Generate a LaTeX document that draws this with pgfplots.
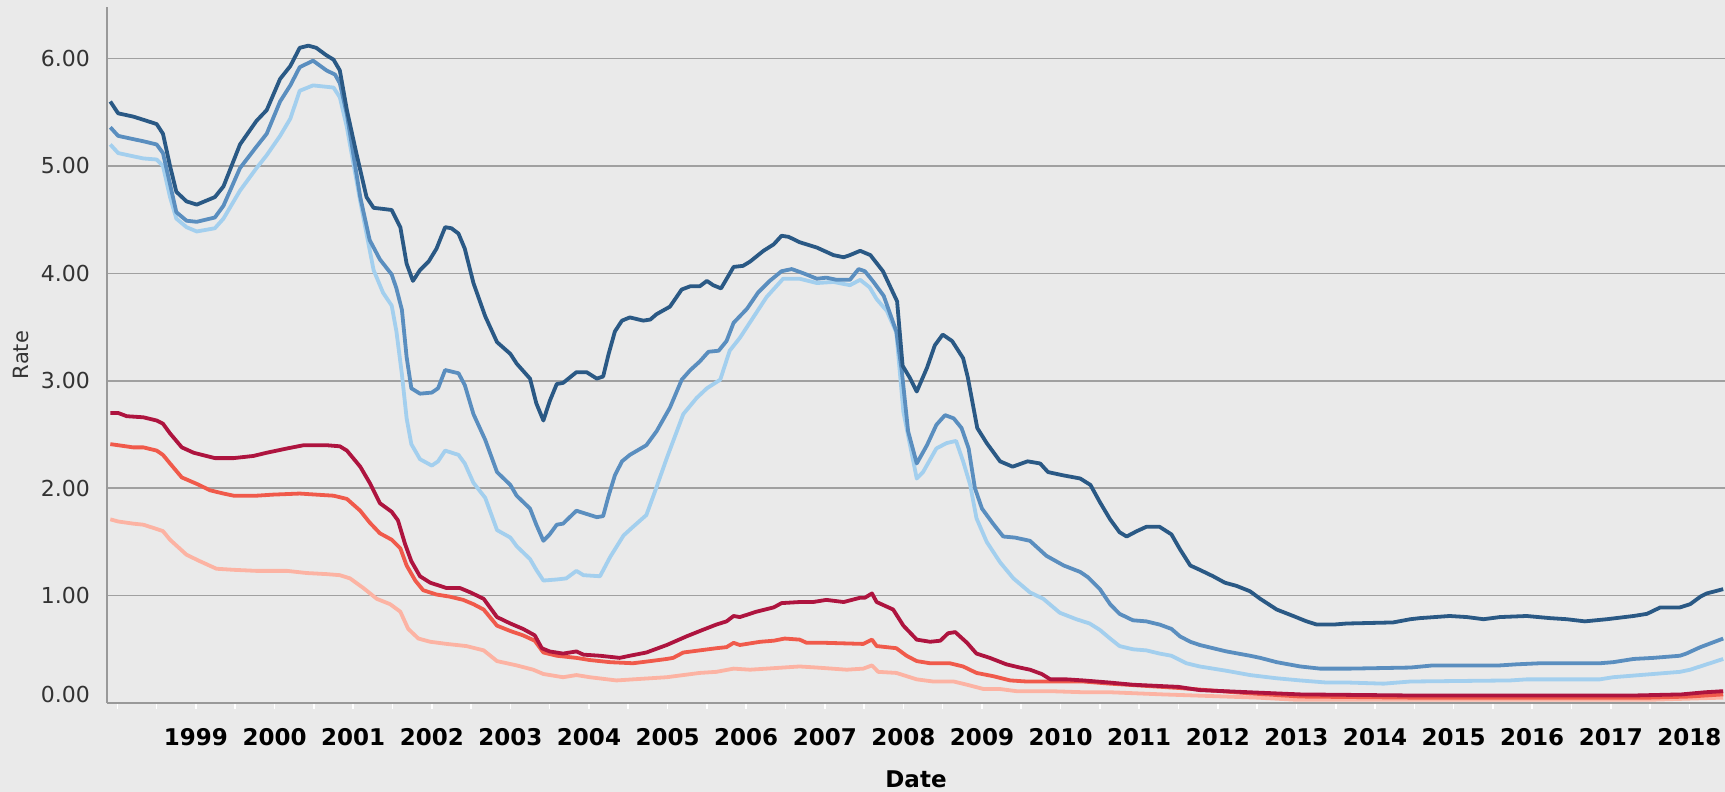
\documentclass[border=0pt]{standalone}
\usepackage{fontspec}
\setmainfont{DejaVu Sans}
\usepackage{pgfplots}
\pgfplotsset{compat=1.18}
\definecolor{bg}{HTML}{EAEAEA}
\definecolor{gridgray}{HTML}{A0A0A0}
\definecolor{axisgray}{HTML}{999999}
\definecolor{labelgray}{HTML}{333333}
\definecolor{db}{HTML}{2A5985}
\definecolor{mb}{HTML}{5A8EBF}
\definecolor{lb}{HTML}{A3CFEE}
\definecolor{dr}{HTML}{AE143F}
\definecolor{rr}{HTML}{F05A4B}
\definecolor{lr}{HTML}{FCB3A3}
\begin{document}
\begin{tikzpicture}
\fill[bg] (0,0) rectangle (862.5pt,396pt);
\useasboundingbox (0,0) rectangle (862.5pt,396pt);
\begin{axis}[
  at={(53.5pt,44.5pt)}, anchor=south west,
  scale only axis, width=809pt, height=348pt,
  xmin=1997.868, xmax=2018.453, ymin=0, ymax=6.48,
  axis lines*=left,
  axis line style={-, draw=axisgray, line width=1.2pt},
  ymajorgrids, grid style={draw=gridgray, line width=0.8pt},
  ytick={0,1,2,3,4,5,6},
  yticklabels={\raisebox{8.5pt}{0.00},1.00,2.00,3.00,4.00,5.00,6.00},
  xtick={1999,2000,2001,2002,2003,2004,2005,2006,2007,2008,2009,2010,2011,2012,2013,2014,2015,2016,2017,2018},
  xticklabels={1999,2000,2001,2002,2003,2004,2005,2006,2007,2008,2009,2010,2011,2012,2013,2014,2015,2016,2017,2018},
  minor xtick={1998,1998.5,1999.5,2000.5,2001.5,2002.5,2003.5,2004.5,2005.5,2006.5,2007.5,2008.5,2009.5,2010.5,2011.5,2012.5,2013.5,2014.5,2015.5,2016.5,2017.5},
  tick align=outside, major tick length=3pt, minor tick length=3pt,
  tick style={draw=white, line width=0.8pt},
  ytick style={draw=none},
  /pgf/number format/assume math mode=true,
  xticklabel style={font=\bfseries\fontsize{11.5}{13}\selectfont, text=black, yshift=-6pt},
  yticklabel style={font=\fontsize{11}{13}\selectfont, text=labelgray, xshift=-2pt},
  xlabel={Date}, ylabel={Rate},
  xlabel style={at={(axis description cs:0.5,-0.1092)}, anchor=center, font=\bfseries\fontsize{11.5}{13}\selectfont, text=black},
  ylabel style={at={(axis description cs:-0.0532,0.5)}, anchor=center, font=\fontsize{10.5}{12}\selectfont, text=labelgray},
  every axis plot/.append style={line width=1.9pt, line join=round, no markers},
]
\addplot[lr] coordinates {(1997.91,1.71)(1998.01,1.69)(1998.20,1.67)(1998.33,1.66)(1998.50,1.62)(1998.58,1.60)(1998.67,1.52)(1998.88,1.38)(1999.05,1.32)(1999.26,1.25)(1999.48,1.24)(1999.77,1.23)(1999.98,1.23)(2000.16,1.23)(2000.41,1.21)(2000.66,1.20)(2000.83,1.19)(2000.96,1.16)(2001.13,1.07)(2001.30,0.97)(2001.47,0.92)(2001.60,0.85)(2001.70,0.69)(2001.83,0.60)(2001.98,0.57)(2002.19,0.55)(2002.44,0.53)(2002.66,0.49)(2002.83,0.39)(2003.08,0.35)(2003.29,0.31)(2003.42,0.27)(2003.67,0.24)(2003.84,0.26)(2004.01,0.24)(2004.35,0.21)(2004.56,0.22)(2004.99,0.24)(2005.41,0.28)(2005.62,0.29)(2005.84,0.32)(2006.05,0.31)(2006.47,0.33)(2006.68,0.34)(2006.90,0.33)(2007.28,0.31)(2007.49,0.32)(2007.60,0.35)(2007.68,0.29)(2007.91,0.28)(2008.17,0.22)(2008.38,0.20)(2008.64,0.20)(2008.81,0.17)(2009.02,0.13)(2009.23,0.13)(2009.44,0.11)(2009.87,0.11)(2010.29,0.10)(2010.63,0.10)(2011.30,0.08)(2012.50,0.05)(2013.00,0.03)(2014.50,0.03)(2017.50,0.03)(2018.43,0.05)};
\addplot[rr] coordinates {(1997.91,2.41)(1998.01,2.40)(1998.20,2.38)(1998.33,2.38)(1998.50,2.35)(1998.58,2.31)(1998.67,2.23)(1998.82,2.10)(1999.01,2.04)(1999.18,1.98)(1999.35,1.95)(1999.48,1.93)(1999.77,1.93)(1999.98,1.94)(2000.32,1.95)(2000.53,1.94)(2000.75,1.93)(2000.92,1.90)(2001.09,1.79)(2001.21,1.68)(2001.34,1.58)(2001.49,1.52)(2001.60,1.44)(2001.68,1.28)(2001.79,1.14)(2001.89,1.05)(2002.06,1.01)(2002.23,0.99)(2002.40,0.96)(2002.53,0.92)(2002.66,0.87)(2002.83,0.72)(2003.00,0.67)(2003.16,0.63)(2003.31,0.58)(2003.42,0.47)(2003.59,0.44)(2003.84,0.42)(2004.01,0.40)(2004.27,0.38)(2004.56,0.37)(2004.78,0.39)(2004.99,0.41)(2005.07,0.42)(2005.20,0.47)(2005.41,0.49)(2005.62,0.51)(2005.75,0.52)(2005.84,0.56)(2005.92,0.54)(2006.18,0.57)(2006.35,0.58)(2006.49,0.60)(2006.68,0.59)(2006.77,0.56)(2007.02,0.56)(2007.49,0.55)(2007.60,0.59)(2007.66,0.53)(2007.91,0.51)(2008.04,0.44)(2008.17,0.39)(2008.34,0.37)(2008.59,0.37)(2008.76,0.34)(2008.93,0.28)(2009.14,0.25)(2009.36,0.21)(2009.57,0.20)(2010.29,0.20)(2010.63,0.18)(2011.50,0.14)(2012.40,0.09)(2013.05,0.06)(2014.45,0.05)(2017.50,0.05)(2018.00,0.06)(2018.43,0.08)};
\addplot[dr] coordinates {(1997.91,2.70)(1998.01,2.70)(1998.12,2.67)(1998.33,2.66)(1998.50,2.63)(1998.58,2.60)(1998.67,2.51)(1998.82,2.38)(1998.97,2.33)(1999.24,2.28)(1999.48,2.28)(1999.73,2.30)(1999.90,2.33)(2000.16,2.37)(2000.37,2.40)(2000.66,2.40)(2000.83,2.39)(2000.92,2.35)(2001.09,2.20)(2001.21,2.05)(2001.34,1.86)(2001.49,1.78)(2001.57,1.70)(2001.66,1.48)(2001.74,1.32)(2001.85,1.18)(2001.98,1.12)(2002.19,1.07)(2002.36,1.07)(2002.49,1.03)(2002.66,0.97)(2002.83,0.80)(2003.00,0.74)(2003.16,0.69)(2003.31,0.63)(2003.40,0.51)(2003.50,0.48)(2003.67,0.46)(2003.84,0.48)(2003.93,0.45)(2004.14,0.44)(2004.39,0.42)(2004.52,0.44)(2004.73,0.47)(2004.99,0.54)(2005.24,0.62)(2005.41,0.67)(2005.62,0.73)(2005.75,0.76)(2005.84,0.81)(2005.92,0.80)(2006.13,0.85)(2006.35,0.89)(2006.45,0.93)(2006.68,0.94)(2006.85,0.94)(2007.02,0.96)(2007.24,0.94)(2007.45,0.98)(2007.51,0.98)(2007.60,1.02)(2007.66,0.94)(2007.87,0.87)(2008.00,0.72)(2008.17,0.59)(2008.34,0.57)(2008.47,0.58)(2008.57,0.65)(2008.66,0.66)(2008.81,0.56)(2008.93,0.46)(2009.10,0.42)(2009.31,0.36)(2009.48,0.33)(2009.61,0.31)(2009.76,0.27)(2009.87,0.22)(2010.08,0.22)(2010.29,0.21)(2010.63,0.19)(2010.92,0.17)(2011.50,0.15)(2011.77,0.12)(2012.40,0.10)(2013.05,0.08)(2014.45,0.07)(2015.50,0.07)(2016.50,0.07)(2017.30,0.07)(2017.90,0.08)(2018.20,0.10)(2018.43,0.11)};
\addplot[lb] coordinates {(1997.91,5.20)(1998.01,5.12)(1998.20,5.09)(1998.33,5.07)(1998.50,5.06)(1998.58,5.00)(1998.67,4.71)(1998.75,4.51)(1998.88,4.43)(1999.01,4.39)(1999.24,4.42)(1999.35,4.51)(1999.56,4.77)(1999.77,4.98)(1999.90,5.10)(2000.07,5.28)(2000.20,5.44)(2000.32,5.70)(2000.49,5.75)(2000.75,5.73)(2000.83,5.64)(2000.92,5.36)(2001.09,4.67)(2001.26,4.03)(2001.38,3.82)(2001.49,3.70)(2001.55,3.46)(2001.62,3.06)(2001.68,2.65)(2001.74,2.41)(2001.85,2.27)(2002.00,2.21)(2002.08,2.25)(2002.17,2.35)(2002.34,2.31)(2002.42,2.23)(2002.53,2.05)(2002.68,1.91)(2002.83,1.61)(2003.00,1.54)(2003.08,1.46)(2003.25,1.34)(2003.33,1.24)(2003.42,1.14)(2003.59,1.15)(2003.71,1.16)(2003.84,1.23)(2003.93,1.19)(2004.14,1.18)(2004.27,1.36)(2004.44,1.56)(2004.56,1.64)(2004.73,1.75)(2004.84,1.97)(2004.99,2.28)(2005.20,2.69)(2005.37,2.84)(2005.50,2.93)(2005.67,3.01)(2005.79,3.28)(2005.92,3.40)(2006.09,3.59)(2006.26,3.78)(2006.47,3.95)(2006.68,3.95)(2006.90,3.91)(2007.11,3.92)(2007.32,3.89)(2007.45,3.94)(2007.57,3.87)(2007.66,3.76)(2007.79,3.65)(2007.91,3.45)(2008.00,2.71)(2008.17,2.09)(2008.25,2.15)(2008.42,2.37)(2008.55,2.42)(2008.67,2.44)(2008.76,2.25)(2008.85,2.03)(2008.93,1.72)(2009.06,1.50)(2009.23,1.31)(2009.40,1.16)(2009.61,1.03)(2009.78,0.97)(2009.99,0.84)(2010.20,0.78)(2010.37,0.74)(2010.50,0.68)(2010.63,0.60)(2010.75,0.53)(2010.92,0.50)(2011.09,0.49)(2011.26,0.46)(2011.41,0.44)(2011.60,0.37)(2011.77,0.34)(2012.11,0.30)(2012.41,0.26)(2012.75,0.23)(2013.05,0.21)(2013.39,0.19)(2013.68,0.19)(2014.11,0.18)(2014.45,0.20)(2015.72,0.21)(2015.93,0.22)(2016.86,0.22)(2017.03,0.24)(2017.54,0.27)(2017.88,0.29)(2018.01,0.31)(2018.43,0.41)};
\addplot[mb] coordinates {(1997.91,5.36)(1998.01,5.28)(1998.20,5.25)(1998.33,5.23)(1998.50,5.20)(1998.58,5.12)(1998.67,4.83)(1998.75,4.57)(1998.88,4.49)(1999.01,4.48)(1999.24,4.52)(1999.35,4.63)(1999.56,4.98)(1999.77,5.18)(1999.90,5.30)(2000.07,5.60)(2000.20,5.75)(2000.32,5.92)(2000.49,5.98)(2000.66,5.89)(2000.77,5.85)(2000.83,5.77)(2000.92,5.48)(2001.09,4.71)(2001.21,4.31)(2001.34,4.13)(2001.49,3.99)(2001.55,3.86)(2001.62,3.66)(2001.68,3.22)(2001.74,2.93)(2001.85,2.88)(2002.00,2.89)(2002.08,2.93)(2002.17,3.10)(2002.34,3.07)(2002.42,2.96)(2002.53,2.69)(2002.68,2.45)(2002.83,2.15)(2003.00,2.03)(2003.08,1.93)(2003.25,1.81)(2003.33,1.66)(2003.42,1.51)(2003.50,1.57)(2003.59,1.66)(2003.67,1.67)(2003.84,1.79)(2003.97,1.76)(2004.10,1.73)(2004.18,1.74)(2004.25,1.93)(2004.33,2.12)(2004.42,2.25)(2004.52,2.31)(2004.73,2.40)(2004.86,2.53)(2005.03,2.75)(2005.18,3.01)(2005.29,3.10)(2005.41,3.18)(2005.52,3.27)(2005.65,3.28)(2005.75,3.37)(2005.84,3.54)(2006.01,3.67)(2006.15,3.82)(2006.30,3.93)(2006.45,4.02)(2006.58,4.04)(2006.73,4.00)(2006.90,3.95)(2007.02,3.96)(2007.15,3.94)(2007.32,3.94)(2007.43,4.04)(2007.51,4.02)(2007.62,3.92)(2007.75,3.79)(2007.91,3.46)(2007.98,3.09)(2008.06,2.53)(2008.17,2.23)(2008.30,2.40)(2008.42,2.59)(2008.53,2.68)(2008.64,2.65)(2008.74,2.56)(2008.83,2.37)(2008.91,2.00)(2009.00,1.81)(2009.14,1.67)(2009.27,1.55)(2009.42,1.54)(2009.61,1.51)(2009.82,1.37)(2010.04,1.28)(2010.25,1.22)(2010.35,1.17)(2010.50,1.06)(2010.63,0.92)(2010.75,0.83)(2010.92,0.77)(2011.09,0.76)(2011.26,0.73)(2011.41,0.69)(2011.52,0.62)(2011.65,0.57)(2011.77,0.54)(2012.11,0.48)(2012.41,0.44)(2012.54,0.42)(2012.75,0.38)(2013.05,0.34)(2013.30,0.32)(2013.68,0.32)(2014.45,0.33)(2014.74,0.35)(2015.59,0.35)(2015.80,0.36)(2016.10,0.37)(2016.86,0.37)(2017.03,0.38)(2017.29,0.41)(2017.54,0.42)(2017.88,0.44)(2017.96,0.46)(2018.14,0.52)(2018.43,0.60)};
\addplot[db] coordinates {(1997.91,5.60)(1998.01,5.49)(1998.20,5.46)(1998.33,5.43)(1998.50,5.39)(1998.58,5.30)(1998.67,5.00)(1998.75,4.76)(1998.88,4.67)(1999.01,4.64)(1999.24,4.71)(1999.35,4.81)(1999.56,5.20)(1999.77,5.42)(1999.90,5.52)(2000.07,5.81)(2000.20,5.93)(2000.32,6.10)(2000.43,6.12)(2000.53,6.10)(2000.66,6.03)(2000.75,5.99)(2000.83,5.89)(2000.92,5.52)(2001.04,5.12)(2001.17,4.71)(2001.26,4.61)(2001.38,4.60)(2001.49,4.59)(2001.60,4.43)(2001.68,4.09)(2001.76,3.93)(2001.85,4.03)(2001.96,4.11)(2002.06,4.23)(2002.17,4.43)(2002.25,4.42)(2002.34,4.37)(2002.42,4.23)(2002.53,3.91)(2002.68,3.60)(2002.83,3.36)(2003.00,3.25)(2003.08,3.16)(2003.25,3.02)(2003.33,2.79)(2003.42,2.63)(2003.50,2.81)(2003.59,2.97)(2003.67,2.98)(2003.84,3.08)(2003.97,3.08)(2004.10,3.02)(2004.18,3.04)(2004.25,3.25)(2004.33,3.46)(2004.42,3.56)(2004.52,3.59)(2004.69,3.56)(2004.78,3.57)(2004.86,3.62)(2005.03,3.69)(2005.18,3.85)(2005.29,3.88)(2005.41,3.88)(2005.50,3.93)(2005.58,3.89)(2005.68,3.86)(2005.84,4.06)(2005.96,4.07)(2006.05,4.11)(2006.22,4.21)(2006.35,4.27)(2006.45,4.35)(2006.54,4.34)(2006.68,4.29)(2006.90,4.24)(2007.11,4.17)(2007.24,4.15)(2007.32,4.17)(2007.45,4.21)(2007.58,4.17)(2007.74,4.02)(2007.92,3.74)(2007.99,3.14)(2008.08,3.03)(2008.17,2.90)(2008.30,3.12)(2008.40,3.33)(2008.50,3.43)(2008.62,3.37)(2008.76,3.21)(2008.82,3.03)(2008.94,2.56)(2009.06,2.42)(2009.23,2.25)(2009.39,2.20)(2009.58,2.25)(2009.74,2.23)(2009.84,2.15)(2010.03,2.12)(2010.25,2.09)(2010.38,2.03)(2010.50,1.87)(2010.63,1.71)(2010.75,1.59)(2010.84,1.55)(2010.97,1.60)(2011.09,1.64)(2011.26,1.64)(2011.41,1.57)(2011.52,1.43)(2011.65,1.28)(2011.77,1.24)(2011.94,1.18)(2012.09,1.12)(2012.24,1.09)(2012.41,1.04)(2012.54,0.97)(2012.75,0.87)(2012.96,0.81)(2013.13,0.76)(2013.26,0.73)(2013.47,0.73)(2013.64,0.74)(2014.23,0.75)(2014.45,0.78)(2014.57,0.79)(2014.95,0.81)(2015.17,0.80)(2015.38,0.78)(2015.59,0.80)(2015.93,0.81)(2016.23,0.79)(2016.44,0.78)(2016.67,0.76)(2016.95,0.78)(2017.29,0.81)(2017.46,0.83)(2017.63,0.89)(2017.88,0.89)(2018.01,0.92)(2018.14,0.99)(2018.22,1.02)(2018.43,1.06)};
\end{axis}
\end{tikzpicture}
\end{document}
